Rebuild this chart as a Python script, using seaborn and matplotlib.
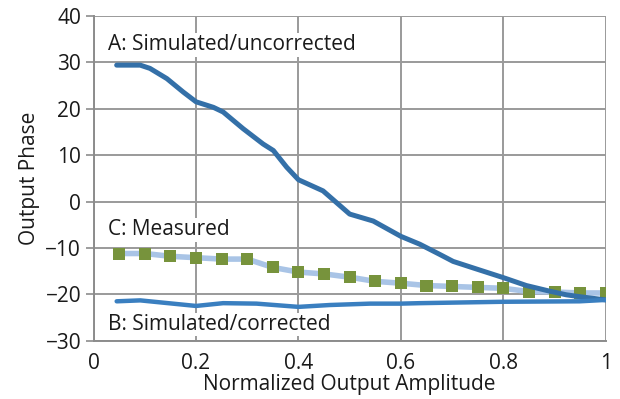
import numpy as np
import pandas as pd
import matplotlib
matplotlib.use("Agg")
import matplotlib.pyplot as plt
import seaborn as sns

# Curve A: simulated / uncorrected
a_x = [0.045, 0.091, 0.11, 0.143, 0.175, 0.2, 0.234, 0.253, 0.292, 0.331, 0.351, 0.377, 0.4, 0.448, 0.5, 0.546,
       0.6, 0.637, 0.676, 0.702, 0.741, 0.8, 0.845, 0.89, 0.923, 0.949, 1.0]
a_y = [29.4, 29.4, 28.7, 26.5, 23.6, 21.5, 20.3, 19.3, 15.7, 12.4, 11.0, 7.4, 4.7, 2.3, -2.7, -4.2,
       -7.5, -9.2, -11.4, -12.9, -14.3, -16.4, -18.1, -19.3, -20.1, -20.5, -21.2]

# Curve B: simulated / corrected
b_x = [0.045, 0.091, 0.2, 0.253, 0.318, 0.4, 0.461, 0.54, 0.6, 0.637, 0.8, 0.949, 1.0]
b_y = [-21.5, -21.3, -22.5, -21.9, -22.0, -22.7, -22.3, -22.0, -22.0, -21.9, -21.6, -21.5, -21.2]

# Curve C: measured
c_x = [0.05, 0.1, 0.15, 0.2, 0.25, 0.3, 0.35, 0.4, 0.45, 0.5, 0.55, 0.6, 0.65, 0.7, 0.75, 0.8, 0.85, 0.9, 0.95, 1.0]
c_y = [-11.2, -11.2, -11.8, -12.1, -12.4, -12.4, -14.2, -15.2, -15.6, -16.3, -17.2, -17.6, -18.1, -18.3, -18.5, -18.7, -19.4, -19.5, -19.7, -19.7]

x_ticks = [0, 0.2, 0.4, 0.6, 0.8, 1]
x_tick_labels = ["0", "0.2", "0.4", "0.6", "0.8", "1"]
y_ticks = [-30, -20, -10, 0, 10, 20, 30, 40]

sns.set_theme(style="white")
plt.rcParams['font.family'] = ['Open Sans', 'DejaVu Sans']

fig = plt.figure(figsize=(6.2, 3.99), dpi=100)
ax = fig.add_axes([0.151, 0.146, 0.826, 0.814])

dfa = pd.DataFrame({"x": a_x, "y": a_y})
dfb = pd.DataFrame({"x": b_x, "y": b_y})
dfc = pd.DataFrame({"x": c_x, "y": c_y})

sns.lineplot(data=dfc, x="x", y="y", ax=ax, color="#A9C4E6", linewidth=4, zorder=3)
sns.scatterplot(data=dfc, x="x", y="y", ax=ax, color="#77933C", marker="s", s=75, edgecolor="none", zorder=4)
sns.lineplot(data=dfa, x="x", y="y", ax=ax, color="#3470A8", linewidth=3.6, zorder=5)
sns.lineplot(data=dfb, x="x", y="y", ax=ax, color="#3A7FC0", linewidth=3.2, zorder=5)
for ln in ax.lines:
    ln.set_solid_joinstyle("round")
    ln.set_solid_capstyle("round")

ax.set_xlim(0, 1)
ax.set_ylim(-30, 40)
ax.set_xticks(x_ticks)
ax.set_xticklabels(x_tick_labels)
ax.set_yticks(y_ticks)
ax.grid(True, color="#9A9A9A", linewidth=1.4)
ax.set_axisbelow(True)
for s in ["top", "right"]:
    ax.spines[s].set_visible(False)
for s in ["left", "bottom"]:
    ax.spines[s].set_color("#8C8C8C")
    ax.spines[s].set_linewidth(1.4)
fs = 15
ax.tick_params(axis="both", which="both", length=6, width=1.2, color="#8C8C8C",
               labelsize=fs, labelcolor="#1a1a1a", direction="out", left=True, bottom=False, pad=3)
ax.tick_params(axis="x", pad=3)
ax.set_xlabel("Normalized Output Amplitude", fontsize=fs, color="#1a1a1a", labelpad=0)
ax.set_ylabel("Output Phase", fontsize=fs, color="#1a1a1a", labelpad=4)

ax.text(0.028, 33.8, "A: Simulated/uncorrected", fontsize=fs, color="#1a1a1a", va="center", ha="left", zorder=6,
        bbox=dict(facecolor="white", edgecolor="none", pad=1))
ax.text(0.028, -6.1, "C: Measured", fontsize=fs, color="#1a1a1a", va="center", ha="left", zorder=6,
        bbox=dict(facecolor="white", edgecolor="none", pad=1))
ax.text(0.028, -26.5, "B: Simulated/corrected", fontsize=fs, color="#1a1a1a", va="center", ha="left", zorder=6,
        bbox=dict(facecolor="white", edgecolor="none", pad=1))

fig.savefig("out.png", dpi=100)
